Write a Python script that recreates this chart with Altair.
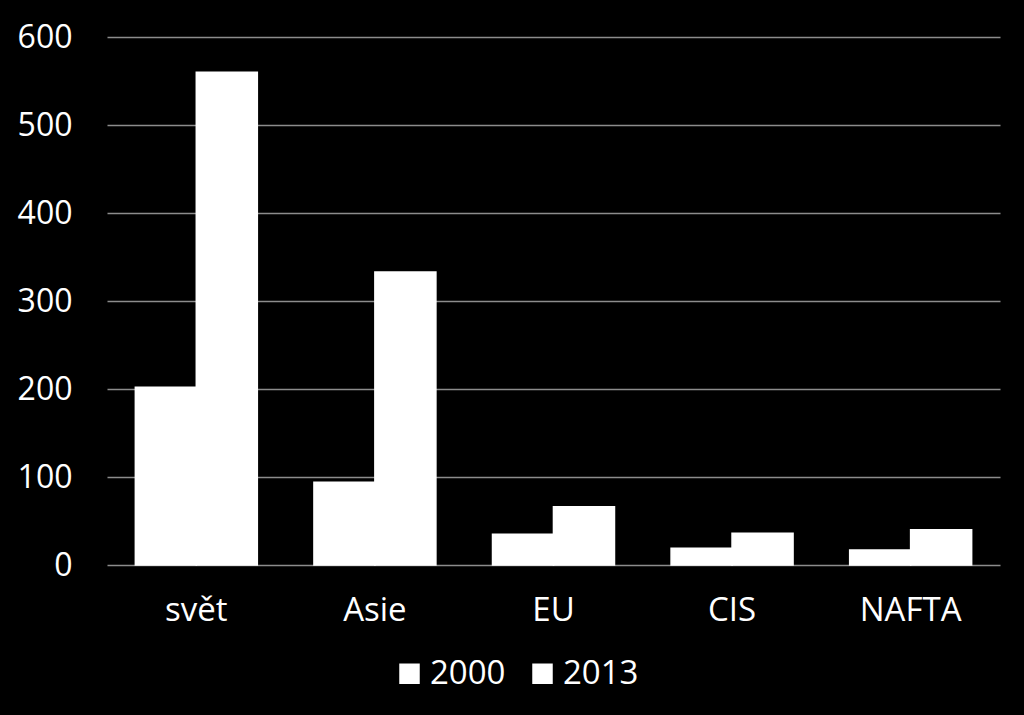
import altair as alt
import pandas as pd

categories = ["svět", "Asie", "EU", "CIS", "NAFTA"]
values_2000 = [202, 94, 35, 19, 17]
values_2013 = [560, 333, 66, 36, 40]
series = ["2000", "2013"]

rows = []
for c, a, b in zip(categories, values_2000, values_2013):
    rows.append({"region": c, "rok": series[0], "hodnota": a})
    rows.append({"region": c, "rok": series[1], "hodnota": b})
df = pd.DataFrame(rows)

FONT = "Open Sans"

chart = (
    alt.Chart(df)
    .mark_bar(color="white", stroke="white", strokeWidth=1.6)
    .encode(
        x=alt.X(
            "region:N",
            sort=categories,
            scale=alt.Scale(paddingInner=0.3175, paddingOuter=0.159),
            axis=alt.Axis(
                title=None, labelAngle=0, labelFontSize=33, labelColor="white",
                labelFont=FONT, ticks=False, domain=False, labelPadding=29,
            ),
        ),
        xOffset=alt.XOffset("rok:N", sort=series),
        y=alt.Y(
            "hodnota:Q",
            scale=alt.Scale(domain=[0, 600]),
            axis=alt.Axis(
                title=None, values=[0, 100, 200, 300, 400, 500, 600],
                labelFontSize=32, labelColor="white", labelFont=FONT,
                ticks=False, domain=False, labelPadding=35,
                gridColor="#8c8c8c", gridWidth=1.5,
            ),
        ),
        color=alt.Color(
            "rok:N",
            sort=series,
            scale=alt.Scale(domain=series, range=["white", "white"]),
            legend=alt.Legend(
                title=None, orient="none", direction="horizontal",
                legendX=286, legendY=620,
                symbolType="square", symbolSize=420, symbolStrokeWidth=0,
                labelFontSize=33, labelColor="white", labelFont=FONT,
                labelOffset=4, columnPadding=20,
            ),
        ),
    )
    .properties(
        width=893, height=528,
        background="black",
        padding={"left": 107, "top": 37, "right": 24, "bottom": 150},
        autosize=alt.AutoSizeParams(type="none"),
    )
    .configure_view(stroke=None)
)

chart.save("out.html", embed_options={"renderer": "svg", "actions": False})
